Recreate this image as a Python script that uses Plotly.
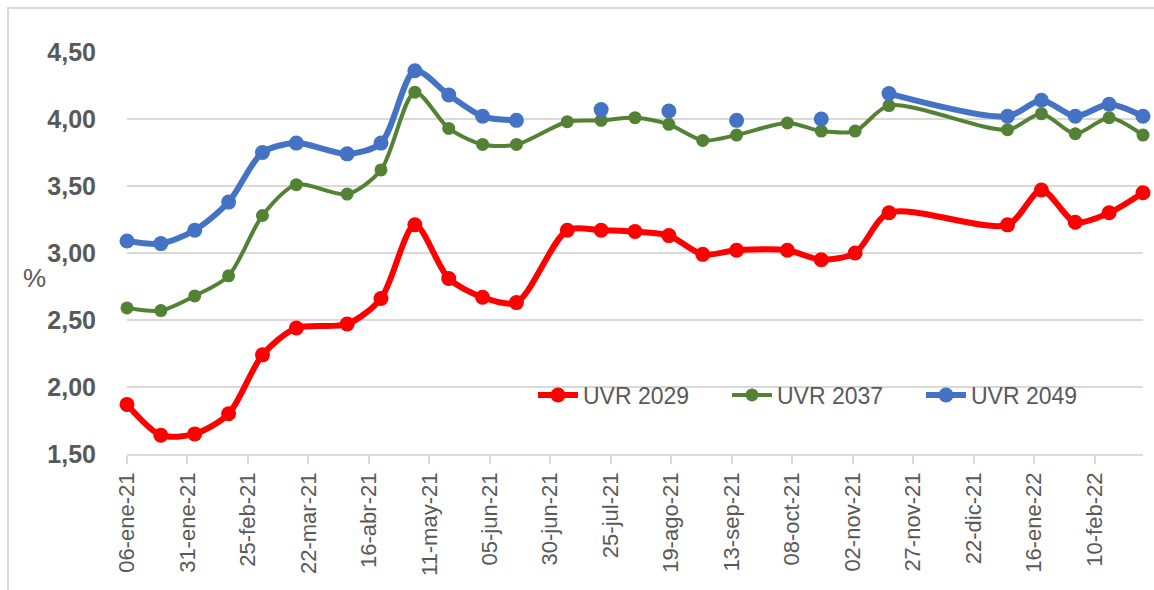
import plotly.graph_objects as go

dates = ["2021-01-06", "2021-01-20", "2021-02-03", "2021-02-17", "2021-03-03", "2021-03-17",
         "2021-04-07", "2021-04-21", "2021-05-05", "2021-05-19", "2021-06-02", "2021-06-16",
         "2021-07-07", "2021-07-21", "2021-08-04", "2021-08-18", "2021-09-01", "2021-09-15",
         "2021-10-06", "2021-10-20", "2021-11-03", "2021-11-17", "2022-01-05", "2022-01-19",
         "2022-02-02", "2022-02-16", "2022-03-02"]

uvr_2029 = [1.87, 1.64, 1.65, 1.80, 2.24, 2.44, 2.47, 2.66, 3.21, 2.81, 2.67, 2.63, 3.17, 3.17,
            3.16, 3.13, 2.99, 3.02, 3.02, 2.95, 3.00, 3.30, 3.21, 3.47, 3.23, 3.30, 3.45]
uvr_2037 = [2.59, 2.57, 2.68, 2.83, 3.28, 3.51, 3.44, 3.62, 4.20, 3.93, 3.81, 3.81, 3.98, 3.99,
            4.01, 3.96, 3.84, 3.88, 3.97, 3.91, 3.91, 4.10, 3.92, 4.04, 3.89, 4.01, 3.88]
uvr_2049 = [3.09, 3.07, 3.17, 3.38, 3.75, 3.82, 3.74, 3.82, 4.36, 4.18, 4.02, 3.99, None, 4.07,
            None, 4.06, None, 3.99, None, 4.00, None, 4.19, 4.02, 4.14, 4.02, 4.11, 4.02]

series_names = ["UVR 2029", "UVR 2037", "UVR 2049"]

tick_dates = ["2021-01-06", "2021-01-31", "2021-02-25", "2021-03-22", "2021-04-16", "2021-05-11",
              "2021-06-05", "2021-06-30", "2021-07-25", "2021-08-19", "2021-09-13", "2021-10-08",
              "2021-11-02", "2021-11-27", "2021-12-22", "2022-01-16", "2022-02-10"]
tick_labels = ["06-ene-21", "31-ene-21", "25-feb-21", "22-mar-21", "16-abr-21", "11-may-21",
               "05-jun-21", "30-jun-21", "25-jul-21", "19-ago-21", "13-sep-21", "08-oct-21",
               "02-nov-21", "27-nov-21", "22-dic-21", "16-ene-22", "10-feb-22"]

GRAY = "#595959"
FONT = "Liberation Sans, Arial, sans-serif"

W, H = 1154, 590
L, R, T, B = 127, 11, 52, 136
PW, PH = W - L - R, H - T - B


def px_x(px):
    return (px - L) / PW


def px_y(py):
    return (H - B - py) / PH


fig = go.Figure()
styles = [
    (uvr_2029, "#FF0000", 6, 15),
    (uvr_2037, "#548235", 4, 13),
    (uvr_2049, "#4472C4", 6, 15),
]
for name, (vals, col, lw, ms) in zip(series_names, styles):
    fig.add_trace(go.Scatter(
        x=dates, y=vals, name=name, mode="lines+markers",
        line=dict(color=col, width=lw, shape="spline", smoothing=0.8),
        marker=dict(color=col, size=ms),
        connectgaps=False, cliponaxis=False,
    ))

fig.update_layout(
    width=W, height=H, autosize=False,
    margin=dict(l=L, r=R, t=T, b=B, autoexpand=False),
    paper_bgcolor="white", plot_bgcolor="white",
    separators=",.",
    showlegend=True,
    legend=dict(
        orientation="h", x=px_x(533), y=px_y(395), xanchor="left", yanchor="middle",
        font=dict(family=FONT, size=23, color=GRAY),
        bgcolor="rgba(0,0,0,0)", entrywidth=139, itemwidth=40,
    ),
    xaxis=dict(
        type="date", range=["2021-01-06", "2022-03-02"],
        tickvals=tick_dates, ticktext=tick_labels, tickangle=-90,
        ticks="outside", ticklen=8, tickwidth=1.5, tickcolor="#d9d9d9",
        tickfont=dict(family=FONT, size=22, color=GRAY),
        showgrid=False, showline=True, linecolor="#d9d9d9", linewidth=1.5,
        zeroline=False, automargin=False,
    ),
    yaxis=dict(
        range=[1.5, 4.5], dtick=0.5, tick0=1.5, tickformat=".2f",
        showgrid=True, gridcolor="#d9d9d9", gridwidth=1.5,
        ticks="outside", ticklen=25, tickcolor="rgba(0,0,0,0)",
        tickfont=dict(family=FONT, size=25, color=GRAY, weight="bold"),
        showline=False, zeroline=False, automargin=False,
    ),
    annotations=[dict(text="%", xref="paper", yref="paper", x=px_x(34), y=px_y(278),
                      xanchor="center", yanchor="middle", showarrow=False,
                      font=dict(family=FONT, size=26, color=GRAY))],
    shapes=[dict(type="rect", xref="paper", yref="paper",
                 x0=px_x(8), x1=px_x(1170), y0=px_y(610), y1=px_y(8),
                 line=dict(color="#d9d9d9", width=2), layer="below")],
)

fig.write_html("out.html", config={"responsive": False, "displayModeBar": False},
               post_script="document.body.style.margin='0';document.body.style.overflow='hidden';")
